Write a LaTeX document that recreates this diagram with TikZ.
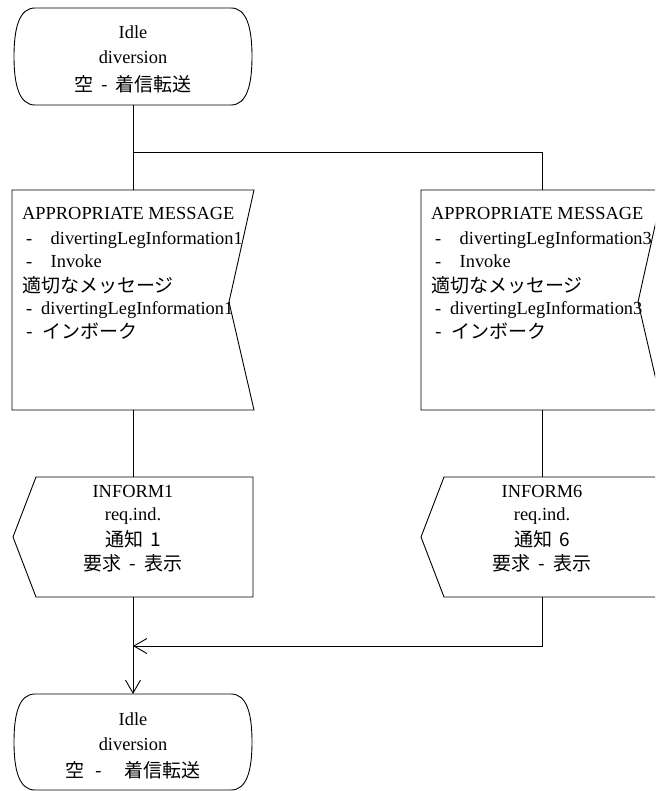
\documentclass[tikz,border=0pt]{standalone}
\usepackage{fontspec}
\setmainfont{Liberation Serif}
\newfontfamily\jpfont{Noto Sans CJK JP}
\usetikzlibrary{calc,arrows.meta}

% outline of a state symbol (flattened rounded ends)
\newcommand\stateoutline[1]{%
  \draw[symline] ($(#1.north west)+(21,0)$) -- ($(#1.north east)+(-21,0)$)
    .. controls ($(#1.north east)+(-5,0)$) and ($(#1.east)+(0,-28)$) .. (#1.east)
    .. controls ($(#1.east)+(0,28)$) and ($(#1.south east)+(-5,0)$) .. ($(#1.south east)+(-21,0)$)
    -- ($(#1.south west)+(21,0)$)
    .. controls ($(#1.south west)+(5,0)$) and ($(#1.west)+(0,28)$) .. (#1.west)
    .. controls ($(#1.west)+(0,-28)$) and ($(#1.north west)+(5,0)$) .. cycle;}
% outline of a message symbol (notch on the right side)
\newcommand\msgoutline[1]{%
  \draw[symline] (#1.north west) -- (#1.north east) -- ($(#1.east)+(-25,2)$)
    -- (#1.south east) -- (#1.south west) -- cycle;}
% outline of an inform symbol (point on the left side)
\newcommand\informoutline[1]{%
  \draw[symline] ($(#1.north west)+(23,0)$) -- (#1.north east) -- (#1.south east)
    -- ($(#1.south west)+(23,0)$) -- (#1.west) -- cycle;}

\tikzset{
  symline/.style={line width=0.9pt, black},
  conn/.style={line width=0.9pt, black},
  flowarrow/.style={conn, -{Straight Barb[length=13pt, width=15pt, line width=0.9pt]}},
  symbolbox/.style={inner sep=0pt, outer sep=0pt, draw=none},
  lat/.style={inner sep=0pt, font=\fontsize{18.4}{22}\selectfont},
  jp/.style={inner sep=0pt, font=\jpfont\fontsize{19}{22}\selectfont},
  msgtext/.style={inner sep=0pt, anchor=base west},
}

\begin{document}
\begin{tikzpicture}[x=1pt, y=-1pt]
  \clip (0,0) rectangle (655,791);
  \fill[white] (0,0) rectangle (655,791);

  % symbols
  \node[symbolbox, minimum width=238, minimum height=97] (idle1) at (133,56.5) {};
  \node[symbolbox, minimum width=242, minimum height=220] (msg1) at (133,300) {};
  \node[symbolbox, minimum width=242, minimum height=220] (msg2) at (542,300) {};
  \node[symbolbox, minimum width=240, minimum height=120] (inf1) at (133,537) {};
  \node[symbolbox, minimum width=242, minimum height=120] (inf2) at (542,537) {};
  \node[symbolbox, minimum width=238, minimum height=96] (idle2) at (133,742) {};

  \stateoutline{idle1}
  \stateoutline{idle2}
  \msgoutline{msg1}
  \msgoutline{msg2}
  \informoutline{inf1}
  \informoutline{inf2}

  % state texts
  \node[lat, anchor=base] (idle1-a) at ($(idle1.north)+(0,30.5)$) {Idle};
  \node[lat, anchor=base] (idle1-b) at ($(idle1.north)+(0,55.5)$) {diversion};
  \node[jp, anchor=base] (idle1-c) at ($(idle1.north)+(0,83.5)$) {空\hspace{8pt}-\hspace{7pt}着信転送};

  \node[lat, anchor=base] (idle2-a) at ($(idle2.north)+(0,31)$) {Idle};
  \node[lat, anchor=base] (idle2-b) at ($(idle2.north)+(0,56)$) {diversion};
  \node[jp, anchor=base] (idle2-c) at ($(idle2.north)+(0,83)$) {空\hspace{11pt}-\hspace{22pt}着信転送};

  % message texts
  \foreach \m/\n in {msg1/1, msg2/3} {
    \node[lat, msgtext] (\m-a) at ($(\m.north west)+(10,30)$) {APPROPRIATE MESSAGE};
    \node[lat, msgtext] (\m-b) at ($(\m.north west)+(14,54)$) {\makebox[24.5pt][l]{-}divertingLegInformation\n};
    \node[lat, msgtext] (\m-c) at ($(\m.north west)+(14,77)$) {\makebox[24.5pt][l]{-}Invoke};
    \node[jp, msgtext] (\m-d) at ($(\m.north west)+(10,102)$) {適切なメッセージ};
    \node[lat, msgtext] (\m-e) at ($(\m.north west)+(14,124)$) {\makebox[15pt][l]{-}divertingLegInformation\n};
    \node[jp, msgtext] (\m-f) at ($(\m.north west)+(14,148)$) {\makebox[16pt][l]{-}インボーク};
  }

  % inform texts
  \foreach \m/\n in {inf1/1, inf2/6} {
    \node[lat, anchor=base] (\m-a) at ($(\m.north)+(0,20)$) {INFORM\n};
    \node[lat, anchor=base] (\m-b) at ($(\m.north)+(0,43)$) {req.ind.};
    \node[jp, anchor=base] (\m-c) at ($(\m.north)+(0,69.5)$) {通知\hspace{7pt}\n};
    \node[jp, anchor=base] (\m-d) at ($(\m.north)+(0,93.5)$) {要求\hspace{8pt}-\hspace{8pt}表示};
  }

  % connectors
  \coordinate (fork) at (133,152);
  \coordinate (join) at (133,646);
  \draw[conn] (idle1.south) -- (msg1.north);
  \draw[conn] (fork) -| (msg2.north);
  \draw[conn] (msg1.south) -- (inf1.north);
  \draw[conn] (msg2.south) -- (inf2.north);
  \draw[flowarrow] (inf1.south) -- (idle2.north);
  \draw[flowarrow] (inf2.south) |- (join);
\end{tikzpicture}
\end{document}
